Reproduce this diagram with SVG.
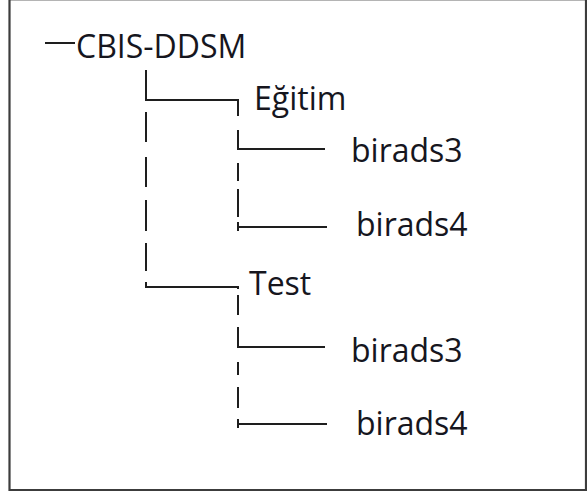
<svg xmlns="http://www.w3.org/2000/svg" width="587" height="495" viewBox="0 0 587 495">
  <style>
    .lbl { font-family: "Open Sans", "Liberation Sans", sans-serif; font-size: 32px; fill: #16161e; }
    .ln { fill: none; stroke: #1e1e1e; stroke-width: 2; }
    .frame { fill: none; stroke: #3c3c3c; stroke-width: 2.2; }
  </style>
  <rect width="587" height="495" fill="#ffffff"/>
  <g id="frame">
    <line x1="9" y1="0.5" x2="586" y2="0.5" stroke="#b4b4b4" stroke-width="1"/>
    <path class="frame" d="M9.5,0 V490 H586 V0"/>
  </g>
  <g id="connectors">
    <path class="ln" d="M45,43 H75"/>
    <path class="ln" d="M146,70 V100 H238 V116"/>
    <path class="ln" d="M146,112 V142 M146,157 V187 M146,200 V231 M146,243 V271 M146,282 V287 H238 V289"/>
    <path class="ln" d="M238,130 V149 H325"/>
    <path class="ln" d="M238,163 V181 M238,189 V217 M238,222 V231 M238,227 H327"/>
    <path class="ln" d="M238,295 V315 M238,327 V347 H325"/>
    <path class="ln" d="M238,362 V375 M238,387 V408 M238,419 V428 M238,424 H327"/>
  </g>
  <g id="n-cbis"><text class="lbl" x="76" y="58">CBIS-DDSM</text></g>
  <g id="n-egitim"><text class="lbl" x="254" y="110">Eğitim</text></g>
  <g id="n-egitim-b3"><text class="lbl" x="351" y="162">birads3</text></g>
  <g id="n-egitim-b4"><text class="lbl" x="356" y="236">birads4</text></g>
  <g id="n-test"><text class="lbl" x="249" y="295">Test</text></g>
  <g id="n-test-b3"><text class="lbl" x="351" y="362">birads3</text></g>
  <g id="n-test-b4"><text class="lbl" x="356" y="435">birads4</text></g>
</svg>
